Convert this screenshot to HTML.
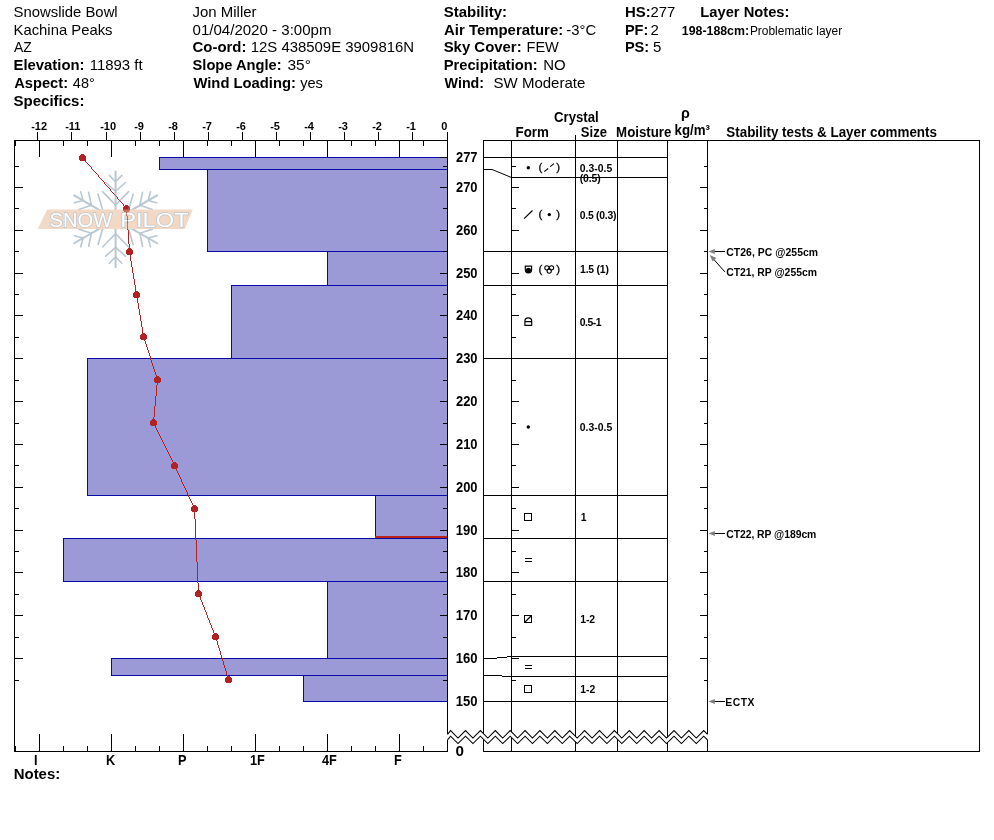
<!DOCTYPE html>
<html lang="en"><head><meta charset="utf-8"><title>Snow Pilot - Snowslide Bowl snow profile</title>
<style>html,body{margin:0;padding:0;background:#fff}svg{display:block}text{font-family:"Liberation Sans", Arial, sans-serif;fill:#000;white-space:pre}</style></head><body>
<svg width="994" height="840" viewBox="0 0 994 840">
<rect width="994" height="840" fill="#fff"/>
<g id="header">
<text id="t1" x="13.52" y="16.70" font-size="15.0" textLength="104.17" lengthAdjust="spacingAndGlyphs">Snowslide Bowl</text>
<text id="t2" x="13.52" y="34.50" font-size="15.0" textLength="99.01" lengthAdjust="spacingAndGlyphs">Kachina Peaks</text>
<text id="t3" x="14.00" y="52.30" font-size="15.0" textLength="17.79" lengthAdjust="spacingAndGlyphs">AZ</text>
<text id="t4" x="13.52" y="70.30" font-size="15.0" font-weight="bold" textLength="70.96" lengthAdjust="spacingAndGlyphs">Elevation:</text>
<text id="t5" x="89.73" y="70.30" font-size="15.0" textLength="52.90" lengthAdjust="spacingAndGlyphs">11893 ft</text>
<text id="t6" x="14.21" y="88.10" font-size="15.0" font-weight="bold" textLength="53.85" lengthAdjust="spacingAndGlyphs">Aspect:</text>
<text id="t7" x="72.84" y="88.10" font-size="15.0" textLength="21.90" lengthAdjust="spacingAndGlyphs">48°</text>
<text id="t8" x="13.52" y="106.10" font-size="15.0" font-weight="bold" textLength="70.91" lengthAdjust="spacingAndGlyphs">Specifics:</text>
<text id="t9" x="192.52" y="16.70" font-size="15.0" textLength="64.01" lengthAdjust="spacingAndGlyphs">Jon Miller</text>
<text id="t10" x="192.52" y="34.50" font-size="15.0" textLength="138.96" lengthAdjust="spacingAndGlyphs">01/04/2020 - 3:00pm</text>
<text id="t11" x="192.52" y="52.30" font-size="15.0" font-weight="bold" textLength="53.91" lengthAdjust="spacingAndGlyphs">Co-ord:</text>
<text id="t12" x="250.73" y="52.30" font-size="15.0" textLength="163.33" lengthAdjust="spacingAndGlyphs">12S 438509E 3909816N</text>
<text id="t13" x="192.52" y="70.30" font-size="15.0" font-weight="bold" textLength="89.17" lengthAdjust="spacingAndGlyphs">Slope Angle:</text>
<text id="t14" x="287.52" y="70.30" font-size="15.0" textLength="23.33" lengthAdjust="spacingAndGlyphs">35°</text>
<text id="t15" x="193.42" y="88.10" font-size="15.0" font-weight="bold" textLength="102.59" lengthAdjust="spacingAndGlyphs">Wind Loading:</text>
<text id="t16" x="300.21" y="88.10" font-size="15.0" textLength="22.69" lengthAdjust="spacingAndGlyphs">yes</text>
<text id="t17" x="443.68" y="16.70" font-size="15.0" font-weight="bold" textLength="63.33" lengthAdjust="spacingAndGlyphs">Stability:</text>
<text id="t18" x="444.00" y="34.50" font-size="15.0" font-weight="bold" textLength="119.22" lengthAdjust="spacingAndGlyphs">Air Temperature:</text>
<text id="t19" x="566.31" y="34.50" font-size="15.0" textLength="29.80" lengthAdjust="spacingAndGlyphs">-3°C</text>
<text id="t20" x="443.68" y="52.30" font-size="15.0" font-weight="bold" textLength="77.96" lengthAdjust="spacingAndGlyphs">Sky Cover:</text>
<text id="t21" x="526.52" y="52.30" font-size="15.0" textLength="32.27" lengthAdjust="spacingAndGlyphs">FEW</text>
<text id="t22" x="443.68" y="70.30" font-size="15.0" font-weight="bold" textLength="94.01" lengthAdjust="spacingAndGlyphs">Precipitation:</text>
<text id="t23" x="543.31" y="70.30" font-size="15.0" textLength="22.43" lengthAdjust="spacingAndGlyphs">NO</text>
<text id="t24" x="444.58" y="88.10" font-size="15.0" font-weight="bold" textLength="39.48" lengthAdjust="spacingAndGlyphs">Wind:</text>
<text id="t25" x="493.52" y="88.10" font-size="15.0" textLength="91.85" lengthAdjust="spacingAndGlyphs">SW Moderate</text>
<text id="t26" x="624.89" y="16.70" font-size="15.0" font-weight="bold" textLength="25.75" lengthAdjust="spacingAndGlyphs">HS:</text>
<text id="t27" x="650.52" y="16.70" font-size="15.0" textLength="24.80" lengthAdjust="spacingAndGlyphs">277</text>
<text id="t28" x="624.89" y="34.50" font-size="15.0" font-weight="bold" textLength="23.38" lengthAdjust="spacingAndGlyphs">PF:</text>
<text id="t29" x="650.50" y="34.50" font-size="15.0">2</text>
<text id="t30" x="624.89" y="52.30" font-size="15.0" font-weight="bold" textLength="24.33" lengthAdjust="spacingAndGlyphs">PS:</text>
<text id="t31" x="653.10" y="52.30" font-size="15.0">5</text>
<text id="t32" x="700.26" y="16.70" font-size="15.0" font-weight="bold" textLength="89.22" lengthAdjust="spacingAndGlyphs">Layer Notes:</text>
<text id="t33" x="681.89" y="34.50" font-size="12" font-weight="bold" textLength="67.17" lengthAdjust="spacingAndGlyphs">198-188cm:</text>
<text id="t34" x="749.89" y="34.50" font-size="12" textLength="92.32" lengthAdjust="spacingAndGlyphs">Problematic layer</text>
</g>
<g id="bars" shape-rendering="crispEdges">
<rect x="159.5" y="157.5" width="288" height="12" fill="#9b99d6" stroke="#0a0aaa" stroke-width="1"/>
<rect x="207.5" y="169.5" width="240" height="82" fill="#9b99d6" stroke="#0a0aaa" stroke-width="1"/>
<rect x="327.5" y="251.5" width="120" height="34" fill="#9b99d6" stroke="#0a0aaa" stroke-width="1"/>
<rect x="231.5" y="285.5" width="216" height="73" fill="#9b99d6" stroke="#0a0aaa" stroke-width="1"/>
<rect x="87.5" y="358.5" width="360" height="137" fill="#9b99d6" stroke="#0a0aaa" stroke-width="1"/>
<rect x="375.5" y="495.5" width="72" height="43" fill="#9b99d6" stroke="#0a0aaa" stroke-width="1"/>
<rect x="63.5" y="538.5" width="384" height="43" fill="#9b99d6" stroke="#0a0aaa" stroke-width="1"/>
<rect x="327.5" y="581.5" width="120" height="77" fill="#9b99d6" stroke="#0a0aaa" stroke-width="1"/>
<rect x="111.5" y="658.5" width="336" height="17" fill="#9b99d6" stroke="#0a0aaa" stroke-width="1"/>
<rect x="303.5" y="675.5" width="144" height="26" fill="#9b99d6" stroke="#0a0aaa" stroke-width="1"/>
<rect x="375" y="536" width="72" height="2" fill="#ba2119"/>
</g>
<g id="axes" shape-rendering="crispEdges">
<rect x="14" y="140" width="434" height="1" fill="#000"/>
<rect x="14" y="751" width="434" height="1" fill="#000"/>
<rect x="14" y="140" width="1" height="612" fill="#000"/>
<rect x="447" y="132" width="1" height="602" fill="#000"/>
<rect x="447" y="740" width="1" height="12" fill="#000"/>
<rect x="447" y="132" width="1" height="9" fill="#000"/>
<rect x="412" y="132" width="1" height="9" fill="#000"/>
<rect x="378" y="132" width="1" height="9" fill="#000"/>
<rect x="344" y="132" width="1" height="9" fill="#000"/>
<rect x="310" y="132" width="1" height="9" fill="#000"/>
<rect x="276" y="132" width="1" height="9" fill="#000"/>
<rect x="242" y="132" width="1" height="9" fill="#000"/>
<rect x="208" y="132" width="1" height="9" fill="#000"/>
<rect x="174" y="132" width="1" height="9" fill="#000"/>
<rect x="140" y="132" width="1" height="9" fill="#000"/>
<rect x="106" y="132" width="1" height="9" fill="#000"/>
<rect x="71" y="132" width="1" height="9" fill="#000"/>
<rect x="37" y="132" width="1" height="9" fill="#000"/>
<rect x="39" y="140" width="1" height="17" fill="#000"/>
<rect x="39" y="734" width="1" height="18" fill="#000"/>
<rect x="63" y="140" width="1" height="6" fill="#000"/>
<rect x="63" y="746" width="1" height="6" fill="#000"/>
<rect x="87" y="140" width="1" height="6" fill="#000"/>
<rect x="87" y="746" width="1" height="6" fill="#000"/>
<rect x="111" y="140" width="1" height="17" fill="#000"/>
<rect x="111" y="734" width="1" height="18" fill="#000"/>
<rect x="135" y="140" width="1" height="6" fill="#000"/>
<rect x="135" y="746" width="1" height="6" fill="#000"/>
<rect x="159" y="140" width="1" height="6" fill="#000"/>
<rect x="159" y="746" width="1" height="6" fill="#000"/>
<rect x="183" y="140" width="1" height="17" fill="#000"/>
<rect x="183" y="734" width="1" height="18" fill="#000"/>
<rect x="207" y="140" width="1" height="6" fill="#000"/>
<rect x="207" y="746" width="1" height="6" fill="#000"/>
<rect x="231" y="140" width="1" height="6" fill="#000"/>
<rect x="231" y="746" width="1" height="6" fill="#000"/>
<rect x="255" y="140" width="1" height="17" fill="#000"/>
<rect x="255" y="734" width="1" height="18" fill="#000"/>
<rect x="279" y="140" width="1" height="6" fill="#000"/>
<rect x="279" y="746" width="1" height="6" fill="#000"/>
<rect x="303" y="140" width="1" height="6" fill="#000"/>
<rect x="303" y="746" width="1" height="6" fill="#000"/>
<rect x="327" y="140" width="1" height="17" fill="#000"/>
<rect x="327" y="734" width="1" height="18" fill="#000"/>
<rect x="351" y="140" width="1" height="6" fill="#000"/>
<rect x="351" y="746" width="1" height="6" fill="#000"/>
<rect x="375" y="140" width="1" height="6" fill="#000"/>
<rect x="375" y="746" width="1" height="6" fill="#000"/>
<rect x="399" y="140" width="1" height="17" fill="#000"/>
<rect x="399" y="734" width="1" height="18" fill="#000"/>
<rect x="423" y="140" width="1" height="6" fill="#000"/>
<rect x="423" y="746" width="1" height="6" fill="#000"/>
<rect x="15" y="140" width="1" height="6" fill="#000"/>
<rect x="15" y="746" width="1" height="6" fill="#000"/>
<rect x="14" y="166" width="5" height="1" fill="#000"/>
<rect x="443" y="166" width="5" height="1" fill="#000"/>
<rect x="14" y="187" width="9" height="1" fill="#000"/>
<rect x="440" y="187" width="8" height="1" fill="#000"/>
<rect x="14" y="208" width="5" height="1" fill="#000"/>
<rect x="443" y="208" width="5" height="1" fill="#000"/>
<rect x="14" y="230" width="9" height="1" fill="#000"/>
<rect x="440" y="230" width="8" height="1" fill="#000"/>
<rect x="14" y="251" width="5" height="1" fill="#000"/>
<rect x="443" y="251" width="5" height="1" fill="#000"/>
<rect x="14" y="273" width="9" height="1" fill="#000"/>
<rect x="440" y="273" width="8" height="1" fill="#000"/>
<rect x="14" y="294" width="5" height="1" fill="#000"/>
<rect x="443" y="294" width="5" height="1" fill="#000"/>
<rect x="14" y="315" width="9" height="1" fill="#000"/>
<rect x="440" y="315" width="8" height="1" fill="#000"/>
<rect x="14" y="337" width="5" height="1" fill="#000"/>
<rect x="443" y="337" width="5" height="1" fill="#000"/>
<rect x="14" y="358" width="9" height="1" fill="#000"/>
<rect x="440" y="358" width="8" height="1" fill="#000"/>
<rect x="14" y="380" width="5" height="1" fill="#000"/>
<rect x="443" y="380" width="5" height="1" fill="#000"/>
<rect x="14" y="401" width="9" height="1" fill="#000"/>
<rect x="440" y="401" width="8" height="1" fill="#000"/>
<rect x="14" y="423" width="5" height="1" fill="#000"/>
<rect x="443" y="423" width="5" height="1" fill="#000"/>
<rect x="14" y="444" width="9" height="1" fill="#000"/>
<rect x="440" y="444" width="8" height="1" fill="#000"/>
<rect x="14" y="465" width="5" height="1" fill="#000"/>
<rect x="443" y="465" width="5" height="1" fill="#000"/>
<rect x="14" y="487" width="9" height="1" fill="#000"/>
<rect x="440" y="487" width="8" height="1" fill="#000"/>
<rect x="14" y="508" width="5" height="1" fill="#000"/>
<rect x="443" y="508" width="5" height="1" fill="#000"/>
<rect x="14" y="530" width="9" height="1" fill="#000"/>
<rect x="440" y="530" width="8" height="1" fill="#000"/>
<rect x="14" y="551" width="5" height="1" fill="#000"/>
<rect x="443" y="551" width="5" height="1" fill="#000"/>
<rect x="14" y="572" width="9" height="1" fill="#000"/>
<rect x="440" y="572" width="8" height="1" fill="#000"/>
<rect x="14" y="594" width="5" height="1" fill="#000"/>
<rect x="443" y="594" width="5" height="1" fill="#000"/>
<rect x="14" y="615" width="9" height="1" fill="#000"/>
<rect x="440" y="615" width="8" height="1" fill="#000"/>
<rect x="14" y="637" width="5" height="1" fill="#000"/>
<rect x="443" y="637" width="5" height="1" fill="#000"/>
<rect x="14" y="658" width="9" height="1" fill="#000"/>
<rect x="440" y="658" width="8" height="1" fill="#000"/>
<rect x="14" y="680" width="5" height="1" fill="#000"/>
<rect x="443" y="680" width="5" height="1" fill="#000"/>
<rect x="440" y="157" width="8" height="1" fill="#000"/>
</g>
<g id="axislabels" font-weight="bold">
<text id="t35" x="441.20" y="129.80" font-size="11">0</text>
<text id="t36" x="406.20" y="129.80" font-size="11">-1</text>
<text id="t37" x="372.20" y="129.80" font-size="11">-2</text>
<text id="t38" x="338.20" y="129.80" font-size="11">-3</text>
<text id="t39" x="304.20" y="129.80" font-size="11">-4</text>
<text id="t40" x="270.20" y="129.80" font-size="11">-5</text>
<text id="t41" x="236.20" y="129.80" font-size="11">-6</text>
<text id="t42" x="202.20" y="129.80" font-size="11">-7</text>
<text id="t43" x="168.20" y="129.80" font-size="11">-8</text>
<text id="t44" x="134.20" y="129.80" font-size="11">-9</text>
<text id="t45" x="100.20" y="129.80" font-size="11">-10</text>
<text id="t46" x="65.20" y="129.80" font-size="11">-11</text>
<text id="t47" x="31.20" y="129.80" font-size="11">-12</text>
<text id="t48" x="33.90" y="764.70" font-size="14.3" transform="translate(33.90 0) scale(0.89 1) translate(-33.90 0)">I</text>
<text id="t49" x="105.90" y="764.70" font-size="14.3" transform="translate(105.90 0) scale(0.89 1) translate(-105.90 0)">K</text>
<text id="t50" x="177.90" y="764.70" font-size="14.3" transform="translate(177.90 0) scale(0.89 1) translate(-177.90 0)">P</text>
<text id="t51" x="249.90" y="764.70" font-size="14.3" transform="translate(249.90 0) scale(0.89 1) translate(-249.90 0)">1F</text>
<text id="t52" x="321.90" y="764.70" font-size="14.3" transform="translate(321.90 0) scale(0.89 1) translate(-321.90 0)">4F</text>
<text id="t53" x="393.90" y="764.70" font-size="14.3" transform="translate(393.90 0) scale(0.89 1) translate(-393.90 0)">F</text>
<text id="t54" x="456.00" y="161.80" font-size="14.0" textLength="21.53" lengthAdjust="spacingAndGlyphs">277</text>
<text id="t55" x="456.00" y="191.80" font-size="14.0" textLength="21.53" lengthAdjust="spacingAndGlyphs">270</text>
<text id="t56" x="456.00" y="234.80" font-size="14.0" textLength="21.53" lengthAdjust="spacingAndGlyphs">260</text>
<text id="t57" x="456.00" y="277.80" font-size="14.0" textLength="21.53" lengthAdjust="spacingAndGlyphs">250</text>
<text id="t58" x="456.00" y="319.80" font-size="14.0" textLength="21.53" lengthAdjust="spacingAndGlyphs">240</text>
<text id="t59" x="456.00" y="362.80" font-size="14.0" textLength="21.53" lengthAdjust="spacingAndGlyphs">230</text>
<text id="t60" x="456.00" y="405.80" font-size="14.0" textLength="21.53" lengthAdjust="spacingAndGlyphs">220</text>
<text id="t61" x="456.00" y="448.80" font-size="14.0" textLength="21.53" lengthAdjust="spacingAndGlyphs">210</text>
<text id="t62" x="456.00" y="491.80" font-size="14.0" textLength="21.53" lengthAdjust="spacingAndGlyphs">200</text>
<text id="t63" x="455.73" y="534.80" font-size="14.0" textLength="21.80" lengthAdjust="spacingAndGlyphs">190</text>
<text id="t64" x="455.73" y="576.80" font-size="14.0" textLength="21.80" lengthAdjust="spacingAndGlyphs">180</text>
<text id="t65" x="455.73" y="619.80" font-size="14.0" textLength="21.80" lengthAdjust="spacingAndGlyphs">170</text>
<text id="t66" x="455.73" y="662.80" font-size="14.0" textLength="21.80" lengthAdjust="spacingAndGlyphs">160</text>
<text id="t67" x="455.73" y="705.80" font-size="14.0" textLength="21.80" lengthAdjust="spacingAndGlyphs">150</text>
<text id="t68" x="455.42" y="756.00" font-size="14.0" textLength="8.48" lengthAdjust="spacingAndGlyphs">0</text>
</g>
<text id="t69" x="13.73" y="779.00" font-size="15.0" font-weight="bold" textLength="46.49" lengthAdjust="spacingAndGlyphs">Notes:</text>
<g id="temp" shape-rendering="crispEdges">
<path fill="#b22222" d="M82,157h1v1h-1zM83,158h1v1h-1zM84,159h1v1h-1zM85,160h1v2h-1zM86,162h1v1h-1zM87,163h1v1h-1zM88,164h1v1h-1zM89,165h1v1h-1zM90,166h1v1h-1zM91,167h1v2h-1zM92,169h1v1h-1zM93,170h1v1h-1zM94,171h1v1h-1zM95,172h1v1h-1zM96,173h1v1h-1zM97,174h1v1h-1zM98,175h1v2h-1zM99,177h1v1h-1zM100,178h1v1h-1zM101,179h1v1h-1zM102,180h1v1h-1zM103,181h1v1h-1zM104,182h1v2h-1zM105,184h1v1h-1zM106,185h1v1h-1zM107,186h1v1h-1zM108,187h1v1h-1zM109,188h1v1h-1zM110,189h1v2h-1zM111,191h1v1h-1zM112,192h1v1h-1zM113,193h1v1h-1zM114,194h1v1h-1zM115,195h1v1h-1zM116,196h1v1h-1zM117,197h1v2h-1zM118,199h1v1h-1zM119,200h1v1h-1zM120,201h1v1h-1zM121,202h1v1h-1zM122,203h1v1h-1zM123,204h1v2h-1zM124,206h1v1h-1zM125,207h1v1h-1zM126,208h1v1h-1zM126,208h1v8h-1zM127,216h1v14h-1zM128,230h1v14h-1zM129,244h1v8h-1zM129,251h1v4h-1zM130,255h1v6h-1zM131,261h1v6h-1zM132,267h1v6h-1zM133,273h1v6h-1zM134,279h1v6h-1zM135,285h1v6h-1zM136,291h1v4h-1zM136,294h1v3h-1zM137,297h1v6h-1zM138,303h1v6h-1zM139,309h1v6h-1zM140,315h1v6h-1zM141,321h1v6h-1zM142,327h1v6h-1zM143,333h1v4h-1zM143,336h1v2h-1zM144,338h1v3h-1zM145,341h1v3h-1zM146,344h1v3h-1zM147,347h1v3h-1zM148,350h1v3h-1zM149,353h1v3h-1zM150,356h1v4h-1zM151,360h1v3h-1zM152,363h1v3h-1zM153,366h1v3h-1zM154,369h1v3h-1zM155,372h1v3h-1zM156,375h1v3h-1zM157,378h1v2h-1zM157,379h1v6h-1zM156,385h1v11h-1zM155,396h1v10h-1zM154,406h1v11h-1zM153,417h1v6h-1zM153,422h1v2h-1zM154,424h1v2h-1zM155,426h1v2h-1zM156,428h1v2h-1zM157,430h1v2h-1zM158,432h1v2h-1zM159,434h1v2h-1zM160,436h1v2h-1zM161,438h1v2h-1zM162,440h1v2h-1zM163,442h1v2h-1zM164,444h1v2h-1zM165,446h1v2h-1zM166,448h1v2h-1zM167,450h1v2h-1zM168,452h1v2h-1zM169,454h1v2h-1zM170,456h1v2h-1zM171,458h1v2h-1zM172,460h1v2h-1zM173,462h1v2h-1zM174,464h1v2h-1zM174,465h1v2h-1zM175,467h1v2h-1zM176,469h1v2h-1zM177,471h1v2h-1zM178,473h1v2h-1zM179,475h1v2h-1zM180,477h1v2h-1zM181,479h1v3h-1zM182,482h1v2h-1zM183,484h1v2h-1zM184,486h1v2h-1zM185,488h1v2h-1zM186,490h1v2h-1zM187,492h1v3h-1zM188,495h1v2h-1zM189,497h1v2h-1zM190,499h1v2h-1zM191,501h1v2h-1zM192,503h1v2h-1zM193,505h1v2h-1zM194,507h1v2h-1zM194,508h1v11h-1zM195,519h1v21h-1zM196,540h1v22h-1zM197,562h1v21h-1zM198,583h1v11h-1zM198,593h1v2h-1zM199,595h1v2h-1zM200,597h1v3h-1zM201,600h1v2h-1zM202,602h1v3h-1zM203,605h1v2h-1zM204,607h1v3h-1zM205,610h1v2h-1zM206,612h1v3h-1zM207,615h1v3h-1zM208,618h1v2h-1zM209,620h1v3h-1zM210,623h1v2h-1zM211,625h1v3h-1zM212,628h1v2h-1zM213,630h1v3h-1zM214,633h1v2h-1zM215,635h1v2h-1zM215,636h1v2h-1zM216,638h1v3h-1zM217,641h1v4h-1zM218,645h1v3h-1zM219,648h1v3h-1zM220,651h1v4h-1zM221,655h1v3h-1zM222,658h1v3h-1zM223,661h1v4h-1zM224,665h1v3h-1zM225,668h1v3h-1zM226,671h1v4h-1zM227,675h1v3h-1zM228,678h1v2h-1z"/>
<circle cx="82.5" cy="157.5" r="3.5" fill="#b22222"/>
<circle cx="126.5" cy="208.5" r="3.5" fill="#b22222"/>
<circle cx="129.5" cy="251.5" r="3.5" fill="#b22222"/>
<circle cx="136.5" cy="294.5" r="3.5" fill="#b22222"/>
<circle cx="143.5" cy="336.5" r="3.5" fill="#b22222"/>
<circle cx="157.5" cy="379.5" r="3.5" fill="#b22222"/>
<circle cx="153.5" cy="422.5" r="3.5" fill="#b22222"/>
<circle cx="174.5" cy="465.5" r="3.5" fill="#b22222"/>
<circle cx="194.5" cy="508.5" r="3.5" fill="#b22222"/>
<circle cx="198.5" cy="593.5" r="3.5" fill="#b22222"/>
<circle cx="215.5" cy="636.5" r="3.5" fill="#b22222"/>
<circle cx="228.5" cy="679.5" r="3.5" fill="#b22222"/>
</g>
<g id="logo" opacity="0.5">
<g stroke="#7391a5" stroke-width="1.9" stroke-linecap="round" fill="none">
<path transform="translate(115.6,219.3) rotate(0)" d="M0,-10 L0,-47.9" stroke-width="2"/>
<path transform="translate(115.6,219.3) rotate(0)" d="M-13.0,-27.7 L0,-14.3 L13.0,-27.7 M-9.9,-36.8 L0,-28.0 L9.9,-36.8 M-6.3,-43.9 L0,-37.6 L6.3,-43.9" stroke-width="1.6"/>
<path transform="translate(115.6,219.3) rotate(60)" d="M0,-10 L0,-47.9" stroke-width="2"/>
<path transform="translate(115.6,219.3) rotate(60)" d="M-13.0,-27.7 L0,-14.3 L13.0,-27.7 M-9.9,-36.8 L0,-28.0 L9.9,-36.8 M-6.3,-43.9 L0,-37.6 L6.3,-43.9" stroke-width="1.6"/>
<path transform="translate(115.6,219.3) rotate(120)" d="M0,-10 L0,-47.9" stroke-width="2"/>
<path transform="translate(115.6,219.3) rotate(120)" d="M-13.0,-27.7 L0,-14.3 L13.0,-27.7 M-9.9,-36.8 L0,-28.0 L9.9,-36.8 M-6.3,-43.9 L0,-37.6 L6.3,-43.9" stroke-width="1.6"/>
<path transform="translate(115.6,219.3) rotate(180)" d="M0,-10 L0,-47.9" stroke-width="2"/>
<path transform="translate(115.6,219.3) rotate(180)" d="M-13.0,-27.7 L0,-14.3 L13.0,-27.7 M-9.9,-36.8 L0,-28.0 L9.9,-36.8 M-6.3,-43.9 L0,-37.6 L6.3,-43.9" stroke-width="1.6"/>
<path transform="translate(115.6,219.3) rotate(240)" d="M0,-10 L0,-47.9" stroke-width="2"/>
<path transform="translate(115.6,219.3) rotate(240)" d="M-13.0,-27.7 L0,-14.3 L13.0,-27.7 M-9.9,-36.8 L0,-28.0 L9.9,-36.8 M-6.3,-43.9 L0,-37.6 L6.3,-43.9" stroke-width="1.6"/>
<path transform="translate(115.6,219.3) rotate(300)" d="M0,-10 L0,-47.9" stroke-width="2"/>
<path transform="translate(115.6,219.3) rotate(300)" d="M-13.0,-27.7 L0,-14.3 L13.0,-27.7 M-9.9,-36.8 L0,-28.0 L9.9,-36.8 M-6.3,-43.9 L0,-37.6 L6.3,-43.9" stroke-width="1.6"/>
</g>
<polygon points="47.1,209.6 192.8,209.6 184.8,228.9 37.7,228.9" fill="#e6b48e"/>
<text x="49.6" y="226.9" font-size="20.4" textLength="62.6" lengthAdjust="spacingAndGlyphs" style="fill:#fff;stroke:#7b8d9d;stroke-width:1.4px;paint-order:stroke fill" font-weight="normal">SNOW</text>
<text x="120.2" y="226.9" font-size="20.4" textLength="68.4" lengthAdjust="spacingAndGlyphs" style="fill:#fff;stroke:#7b8d9d;stroke-width:1.4px;paint-order:stroke fill" font-weight="normal">PILOT</text>
</g>
<g id="table" shape-rendering="crispEdges">
<rect x="483" y="140" width="497" height="1" fill="#000"/>
<rect x="483" y="751" width="497" height="1" fill="#000"/>
<rect x="483" y="140" width="1" height="612" fill="#000"/>
<rect x="979" y="140" width="1" height="612" fill="#000"/>
<rect x="511" y="140" width="1" height="612" fill="#000"/>
<rect x="575" y="135" width="1" height="617" fill="#000"/>
<rect x="617" y="140" width="1" height="612" fill="#000"/>
<rect x="667" y="140" width="1" height="612" fill="#000"/>
<rect x="707" y="140" width="1" height="612" fill="#000"/>
<rect x="511" y="157" width="157" height="1" fill="#000"/>
<rect x="511" y="177" width="157" height="1" fill="#000"/>
<rect x="511" y="251" width="157" height="1" fill="#000"/>
<rect x="511" y="285" width="157" height="1" fill="#000"/>
<rect x="511" y="358" width="157" height="1" fill="#000"/>
<rect x="511" y="495" width="157" height="1" fill="#000"/>
<rect x="511" y="538" width="157" height="1" fill="#000"/>
<rect x="511" y="581" width="157" height="1" fill="#000"/>
<rect x="511" y="656" width="157" height="1" fill="#000"/>
<rect x="511" y="676" width="157" height="1" fill="#000"/>
<rect x="511" y="701" width="157" height="1" fill="#000"/>
<rect x="483" y="157" width="29" height="1" fill="#000"/>
<rect x="483" y="251" width="29" height="1" fill="#000"/>
<rect x="483" y="285" width="29" height="1" fill="#000"/>
<rect x="483" y="358" width="29" height="1" fill="#000"/>
<rect x="483" y="495" width="29" height="1" fill="#000"/>
<rect x="483" y="538" width="29" height="1" fill="#000"/>
<rect x="483" y="581" width="29" height="1" fill="#000"/>
<rect x="483" y="701" width="29" height="1" fill="#000"/>
<rect x="511" y="166" width="5" height="1" fill="#000"/>
<rect x="704" y="166" width="4" height="1" fill="#000"/>
<rect x="511" y="187" width="8" height="1" fill="#000"/>
<rect x="700" y="187" width="8" height="1" fill="#000"/>
<rect x="511" y="208" width="5" height="1" fill="#000"/>
<rect x="704" y="208" width="4" height="1" fill="#000"/>
<rect x="511" y="230" width="8" height="1" fill="#000"/>
<rect x="700" y="230" width="8" height="1" fill="#000"/>
<rect x="511" y="251" width="5" height="1" fill="#000"/>
<rect x="704" y="251" width="4" height="1" fill="#000"/>
<rect x="511" y="273" width="8" height="1" fill="#000"/>
<rect x="700" y="273" width="8" height="1" fill="#000"/>
<rect x="511" y="294" width="5" height="1" fill="#000"/>
<rect x="704" y="294" width="4" height="1" fill="#000"/>
<rect x="511" y="315" width="8" height="1" fill="#000"/>
<rect x="700" y="315" width="8" height="1" fill="#000"/>
<rect x="511" y="337" width="5" height="1" fill="#000"/>
<rect x="704" y="337" width="4" height="1" fill="#000"/>
<rect x="511" y="358" width="8" height="1" fill="#000"/>
<rect x="700" y="358" width="8" height="1" fill="#000"/>
<rect x="511" y="380" width="5" height="1" fill="#000"/>
<rect x="704" y="380" width="4" height="1" fill="#000"/>
<rect x="511" y="401" width="8" height="1" fill="#000"/>
<rect x="700" y="401" width="8" height="1" fill="#000"/>
<rect x="511" y="423" width="5" height="1" fill="#000"/>
<rect x="704" y="423" width="4" height="1" fill="#000"/>
<rect x="511" y="444" width="8" height="1" fill="#000"/>
<rect x="700" y="444" width="8" height="1" fill="#000"/>
<rect x="511" y="465" width="5" height="1" fill="#000"/>
<rect x="704" y="465" width="4" height="1" fill="#000"/>
<rect x="511" y="487" width="8" height="1" fill="#000"/>
<rect x="700" y="487" width="8" height="1" fill="#000"/>
<rect x="511" y="508" width="5" height="1" fill="#000"/>
<rect x="704" y="508" width="4" height="1" fill="#000"/>
<rect x="511" y="530" width="8" height="1" fill="#000"/>
<rect x="700" y="530" width="8" height="1" fill="#000"/>
<rect x="511" y="551" width="5" height="1" fill="#000"/>
<rect x="704" y="551" width="4" height="1" fill="#000"/>
<rect x="511" y="572" width="8" height="1" fill="#000"/>
<rect x="700" y="572" width="8" height="1" fill="#000"/>
<rect x="511" y="594" width="5" height="1" fill="#000"/>
<rect x="704" y="594" width="4" height="1" fill="#000"/>
<rect x="511" y="615" width="8" height="1" fill="#000"/>
<rect x="700" y="615" width="8" height="1" fill="#000"/>
<rect x="511" y="637" width="5" height="1" fill="#000"/>
<rect x="704" y="637" width="4" height="1" fill="#000"/>
<rect x="511" y="658" width="8" height="1" fill="#000"/>
<rect x="700" y="658" width="8" height="1" fill="#000"/>
<rect x="511" y="680" width="5" height="1" fill="#000"/>
<rect x="704" y="680" width="4" height="1" fill="#000"/>
</g>
<g id="connectors" stroke="#000" stroke-width="1" fill="none">
<polyline points="483.5,169.5 492.0,169.5 511.5,177.5"/>
<polyline shape-rendering="crispEdges" points="483.5,658.5 492.0,658.5 511.5,656.5"/>
<polyline shape-rendering="crispEdges" points="483.5,675.5 492.0,675.5 511.5,676.5"/>
</g>
<g id="break">
<polygon fill="#fff" points="447.5,734.3 450.6,730.6 458.0,738.0 465.5,730.6 472.9,738.0 480.4,730.6 487.8,738.0 495.3,730.6 502.7,738.0 510.2,730.6 517.6,738.0 525.1,730.6 532.5,738.0 539.9,730.6 547.4,738.0 554.8,730.6 562.3,738.0 569.7,730.6 577.2,738.0 584.6,730.6 592.1,738.0 599.5,730.6 606.9,738.0 614.4,730.6 621.8,738.0 629.3,730.6 636.7,738.0 644.2,730.6 651.6,738.0 659.1,730.6 666.5,738.0 674.0,730.6 681.4,738.0 688.8,730.6 696.3,738.0 703.7,730.6 707.5,734.3 707.5,739.9 703.7,736.2 696.3,743.6 688.8,736.2 681.4,743.6 674.0,736.2 666.5,743.6 659.1,736.2 651.6,743.6 644.2,736.2 636.7,743.6 629.3,736.2 621.8,743.6 614.4,736.2 606.9,743.6 599.5,736.2 592.1,743.6 584.6,736.2 577.2,743.6 569.7,736.2 562.3,743.6 554.8,736.2 547.4,743.6 539.9,736.2 532.5,743.6 525.1,736.2 517.6,743.6 510.2,736.2 502.7,743.6 495.3,736.2 487.8,743.6 480.4,736.2 472.9,743.6 465.5,736.2 458.0,743.6 450.6,736.2 447.5,739.9"/>
<polygon fill="#fff" points="706.5,734.3 708.2,734.3 708.2,739.9 706.5,739.9"/>
<polyline fill="none" stroke="#000" stroke-width="1.05" stroke-linejoin="miter" points="447.5,734.3 450.6,730.6 458.0,738.0 465.5,730.6 472.9,738.0 480.4,730.6 487.8,738.0 495.3,730.6 502.7,738.0 510.2,730.6 517.6,738.0 525.1,730.6 532.5,738.0 539.9,730.6 547.4,738.0 554.8,730.6 562.3,738.0 569.7,730.6 577.2,738.0 584.6,730.6 592.1,738.0 599.5,730.6 606.9,738.0 614.4,730.6 621.8,738.0 629.3,730.6 636.7,738.0 644.2,730.6 651.6,738.0 659.1,730.6 666.5,738.0 674.0,730.6 681.4,738.0 688.8,730.6 696.3,738.0 703.7,730.6 707.5,734.3"/>
<polyline fill="none" stroke="#000" stroke-width="1.05" stroke-linejoin="miter" points="447.5,739.9 450.6,736.2 458.0,743.6 465.5,736.2 472.9,743.6 480.4,736.2 487.8,743.6 495.3,736.2 502.7,743.6 510.2,736.2 517.6,743.6 525.1,736.2 532.5,743.6 539.9,736.2 547.4,743.6 554.8,736.2 562.3,743.6 569.7,736.2 577.2,743.6 584.6,736.2 592.1,743.6 599.5,736.2 606.9,743.6 614.4,736.2 621.8,743.6 629.3,736.2 636.7,743.6 644.2,736.2 651.6,743.6 659.1,736.2 666.5,743.6 674.0,736.2 681.4,743.6 688.8,736.2 696.3,743.6 703.7,736.2 707.5,739.9"/>
</g>
<g id="colheads" font-weight="bold">
<text id="t70" x="554.05" y="121.80" font-size="13.9" textLength="44.69" lengthAdjust="spacingAndGlyphs">Crystal</text>
<text id="t71" x="515.52" y="136.70" font-size="13.9" textLength="33.38" lengthAdjust="spacingAndGlyphs">Form</text>
<text id="t72" x="580.84" y="136.70" font-size="13.9" textLength="26.06" lengthAdjust="spacingAndGlyphs">Size</text>
<text id="t73" x="616.10" y="136.70" font-size="13.9" textLength="55.22" lengthAdjust="spacingAndGlyphs">Moisture</text>
<text id="t74" x="681.10" y="118.00" font-size="13.9" textLength="8.80" lengthAdjust="spacingAndGlyphs">ρ</text>
<text id="t75" x="674.52" y="134.80" font-size="13.9" textLength="35.48" lengthAdjust="spacingAndGlyphs">kg/m³</text>
<text id="t76" x="726.31" y="136.70" font-size="13.9" textLength="210.64" lengthAdjust="spacingAndGlyphs">Stability tests &amp; Layer comments</text>
</g>
<g id="symbols">
<circle cx="528.3" cy="167.7" r="1.7" fill="#000"/>
<text id="t77" x="538.60" y="171.30" font-size="11.5" stroke="#000" stroke-width="0.3">(</text>
<text id="t78" x="556.30" y="171.30" font-size="11.5" stroke="#000" stroke-width="0.3">)</text>
<path d="M544.3,171.6 L548.2,168.5 M550.2,166.6 L554,163.6" stroke="#000" stroke-width="1.1" fill="none"/>
<path d="M524.1,218.6 L532.5,210.5" stroke="#000" stroke-width="1.15" fill="none"/>
<text id="t79" x="538.60" y="218.40" font-size="11.5" stroke="#000" stroke-width="0.3">(</text>
<text id="t80" x="556.30" y="218.40" font-size="11.5" stroke="#000" stroke-width="0.3">)</text>
<circle cx="549.3" cy="214.6" r="1.7" fill="#000"/>
<path d="M525.3,266.1 H531.6 V269.8 A3.15,3.1 0 0 1 525.3,269.8 Z" stroke="#000" stroke-width="1.15" fill="none"/>
<circle cx="528.45" cy="270.3" r="2.6" fill="#000"/>
<text id="t81" x="538.60" y="272.80" font-size="11.5" stroke="#000" stroke-width="0.3">(</text>
<text id="t82" x="556.30" y="272.80" font-size="11.5" stroke="#000" stroke-width="0.3">)</text>
<circle cx="546.9" cy="267.8" r="2.15" stroke="#000" stroke-width="1.05" fill="none"/><circle cx="551.5" cy="267.8" r="2.15" stroke="#000" stroke-width="1.05" fill="none"/><circle cx="549.2" cy="271.0" r="2.15" stroke="#000" stroke-width="1.05" fill="none"/>
<path d="M524.9,325.3 V321 A3.4,3.2 0 0 1 531.7,321 V325.3 Z M524.9,321.6 H531.7" stroke="#000" stroke-width="1.15" fill="none"/>
<circle cx="528.3" cy="427.0" r="1.7" fill="#000"/>
<rect x="524.5" y="513.5" width="7" height="7" stroke="#000" stroke-width="1.15" fill="none" shape-rendering="crispEdges"/>
<rect x="525" y="558" width="7" height="1" fill="#000"/><rect x="525" y="561" width="7" height="1" fill="#000"/>
<rect x="524.5" y="615.5" width="7" height="7" stroke="#000" stroke-width="1.15" fill="none" shape-rendering="crispEdges"/>
<path d="M524.5,622.5 L531.5,615.5" stroke="#000" stroke-width="1.15" fill="none"/>
<rect x="525" y="665" width="7" height="1" fill="#000"/><rect x="525" y="668" width="7" height="1" fill="#000"/>
<rect x="524.5" y="685.5" width="7" height="7" stroke="#000" stroke-width="1.15" fill="none" shape-rendering="crispEdges"/>
</g>
<g id="sizes" font-weight="bold">
<text id="t83" x="579.68" y="171.60" font-size="10.4" textLength="32.48" lengthAdjust="spacing">0.3-0.5</text>
<text id="t84" x="579.68" y="182.00" font-size="10.4" textLength="21.06" lengthAdjust="spacing">(0.5)</text>
<text id="t85" x="579.68" y="218.60" font-size="10.4" textLength="36.85" lengthAdjust="spacing">0.5 (0.3)</text>
<text id="t86" x="580.10" y="272.60" font-size="10.4" textLength="28.80" lengthAdjust="spacing">1.5 (1)</text>
<text id="t87" x="579.68" y="325.60" font-size="10.4" textLength="21.95" lengthAdjust="spacing">0.5-1</text>
<text id="t88" x="579.68" y="431.00" font-size="10.4" textLength="32.48" lengthAdjust="spacing">0.3-0.5</text>
<text id="t89" x="580.80" y="520.60" font-size="10.4">1</text>
<text id="t90" x="580.26" y="622.50" font-size="10.4" textLength="14.74" lengthAdjust="spacing">1-2</text>
<text id="t91" x="580.26" y="692.60" font-size="10.4" textLength="14.90" lengthAdjust="spacing">1-2</text>
</g>
<g id="tests" font-weight="bold">
<rect x="710" y="251" width="15" height="1" fill="#000" shape-rendering="crispEdges"/>
<polygon points="708.4,251.5 714.8,248.9 714.8,254.1" fill="#808080"/>
<text id="t92" x="726.21" y="255.60" font-size="10.4" textLength="91.90" lengthAdjust="spacing">CT26, PC @255cm</text>
<path d="M724.9,271.9 L711.5,256.8" stroke="#000" stroke-width="1" fill="none"/>
<polygon points="709.8,254.9 716.4,258.0 712.5,261.5" fill="#808080"/>
<text id="t93" x="726.21" y="275.90" font-size="10.4" textLength="90.74" lengthAdjust="spacing">CT21, RP @255cm</text>
<rect x="710" y="533" width="15" height="1" fill="#000" shape-rendering="crispEdges"/>
<polygon points="708.4,533.5 714.8,530.9 714.8,536.1" fill="#808080"/>
<text id="t94" x="726.21" y="537.60" font-size="10.4" textLength="90.16" lengthAdjust="spacing">CT22, RP @189cm</text>
<rect x="710" y="701" width="15" height="1" fill="#000" shape-rendering="crispEdges"/>
<polygon points="708.4,701.5 714.8,698.9 714.8,704.1" fill="#808080"/>
<text id="t95" x="725.31" y="705.80" font-size="10.4" textLength="29.22" lengthAdjust="spacing">ECTX</text>
</g>
</svg></body></html>
